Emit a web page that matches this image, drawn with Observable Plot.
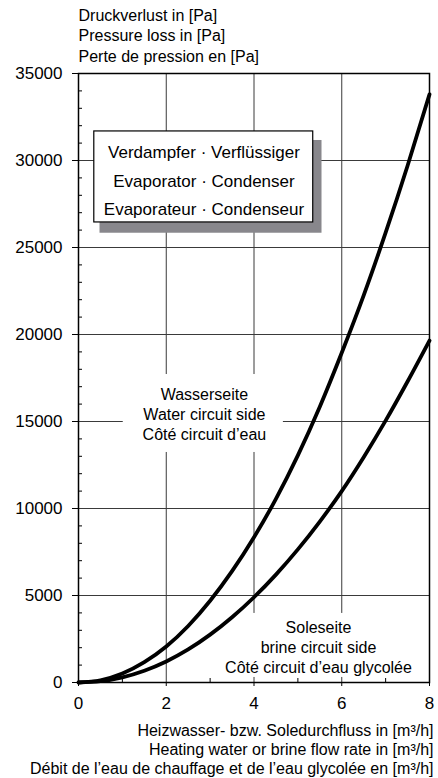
<!DOCTYPE html>
<html><head><meta charset="utf-8">
<script src="https://cdn.jsdelivr.net/npm/d3@7"></script>
<script src="https://cdn.jsdelivr.net/npm/@observablehq/plot@0.6"></script>
<style>body{margin:0;background:#fff}</style>
</head><body><div id="chart"></div>
<script>
// Flow rate [m³/h]
const flow = [0, 0.5, 1, 1.5, 2, 2.5, 3, 3.5, 4, 4.5, 5, 5.5, 6, 6.5, 7, 7.5, 8];
// Pressure loss [Pa] – water circuit side (upper curve)
const waterSide = [0, 130, 520, 1170, 2070, 3250, 4700, 6400, 8350, 10550, 13050, 15850, 18950, 22250, 25850, 29700, 33800];
// Pressure loss [Pa] – brine circuit side (lower curve)
const brineSide = [0, 75, 300, 680, 1210, 1900, 2750, 3750, 4900, 6200, 7650, 9250, 11000, 12950, 15050, 17300, 19650];

const xTicks = [0, 2, 4, 6, 8];
const xMinorTicks = [1, 3, 5, 7];
const yTicks = [0, 5000, 10000, 15000, 20000, 25000, 30000, 35000];
const yMinorTicks = [1000, 2000, 3000, 4000, 6000, 7000, 8000, 9000, 11000, 12000, 13000, 14000,
  16000, 17000, 18000, 19000, 21000, 22000, 23000, 24000, 26000, 27000, 28000, 29000,
  31000, 32000, 33000, 34000];

const yTitle = ["Druckverlust in [Pa]", "Pressure loss in [Pa]", "Perte de pression en [Pa]"];
const xTitle = ["Heizwasser- bzw. Soledurchfluss in [m³/h]", "Heating water or brine flow rate in [m³/h]", "Débit de l’eau de chauffage et de l’eau glycolée en [m³/h]"];
const boxLabel = ["Verdampfer · Verflüssiger", "Evaporator · Condenser", "Evaporateur · Condenseur"];
const waterLabel = ["Wasserseite", "Water circuit side", "Côté circuit d’eau"];
const brineLabel = ["Soleseite", "brine circuit side", "Côté circuit d’eau glycolée"];

const rows = flow.flatMap((f, i) => [
  {flow: f, dp: waterSide[i], side: "water"},
  {flow: f, dp: brineSide[i], side: "brine"}
]);

// annotation placement (data units)
const boxPos = {x1: 0.36, x2: 5.35, y1: 26440, y2: 31670};
const shadowPos = {x1: 0.49, x2: 5.55, y1: 25820, y2: 31150};
const boxText = {x: 2.86, y: 29020};
const waterBg = {x1: 1.02, x2: 4.67, y1: 13220, y2: 17700};
const waterText = {x: 2.87, y: 15460};
const brineBg = {x1: 3.5, x2: 7.56, y1: 290, y2: 3970};
const brineText = {x: 5.47, y: 2070};

const font = "'Liberation Sans', Arial, Helvetica, sans-serif";

const chart = Plot.plot({
  width: 438,
  height: 778,
  marginLeft: 78,
  marginRight: 9,
  marginTop: 73,
  marginBottom: 96,
  style: {fontFamily: font, fontSize: "16px", background: "white", color: "black"},
  x: {domain: [0, 8]},
  y: {domain: [0, 35000]},
  marks: [
    Plot.gridX(xTicks.slice(1, -1), {stroke: "#3a3a3a", strokeOpacity: 1, strokeWidth: 1}),
    Plot.gridY(yTicks.slice(1, -1), {stroke: "#3a3a3a", strokeOpacity: 1, strokeWidth: 1}),
    Plot.rect([waterBg], {x1: "x1", x2: "x2", y1: "y1", y2: "y2", fill: "white"}),
    Plot.rect([brineBg], {x1: "x1", x2: "x2", y1: "y1", y2: "y2", fill: "white"}),
    Plot.rect([shadowPos], {x1: "x1", x2: "x2", y1: "y1", y2: "y2", fill: "#88878c"}),
    Plot.rect([boxPos], {x1: "x1", x2: "x2", y1: "y1", y2: "y2", fill: "white", stroke: "black", strokeWidth: 1.2}),
    Plot.text([boxLabel.join("\n")], {x: () => boxText.x, y: () => boxText.y, text: d => d, fontSize: 17, lineHeight: 1.65, fill: "black"}),
    Plot.text([waterLabel.join("\n")], {x: () => waterText.x, y: () => waterText.y, text: d => d, fontSize: 16, lineHeight: 1.25, fill: "black"}),
    Plot.text([brineLabel.join("\n")], {x: () => brineText.x, y: () => brineText.y, text: d => d, fontSize: 16, lineHeight: 1.25, fill: "black"}),
    Plot.line(rows, {x: "flow", y: "dp", z: "side", stroke: "black", strokeWidth: 3.8, curve: "monotone-x"}),
    Plot.axisY(yMinorTicks, {anchor: "left", tickSize: -4, tickFormat: () => "", label: null}),
    Plot.axisX(xMinorTicks, {anchor: "bottom", tickSize: -4, tickFormat: () => "", label: null}),
    Plot.axisY(yTicks, {anchor: "left", tickSize: 6, tickPadding: 10, fontSize: 17, label: null, tickFormat: d => String(d)}),
    Plot.axisX(xTicks, {anchor: "bottom", tickSize: 4, tickPadding: 10, fontSize: 17, label: null, tickFormat: d => String(d)}),
    Plot.frame({stroke: "black", strokeWidth: 1.5}),
    Plot.text([yTitle.join("\n")], {frameAnchor: "top-left", textAnchor: "start", lineAnchor: "bottom", dy: -12, text: d => d, fontSize: 16, lineHeight: 1.27, fill: "black"}),
    Plot.text([xTitle.join("\n")], {frameAnchor: "bottom-right", textAnchor: "end", lineAnchor: "top", dx: 4, dy: 40, text: d => d, fontSize: 16, lineHeight: 1.19, fill: "black"})
  ]
});
document.getElementById("chart").appendChild(chart);
</script>
</body></html>
